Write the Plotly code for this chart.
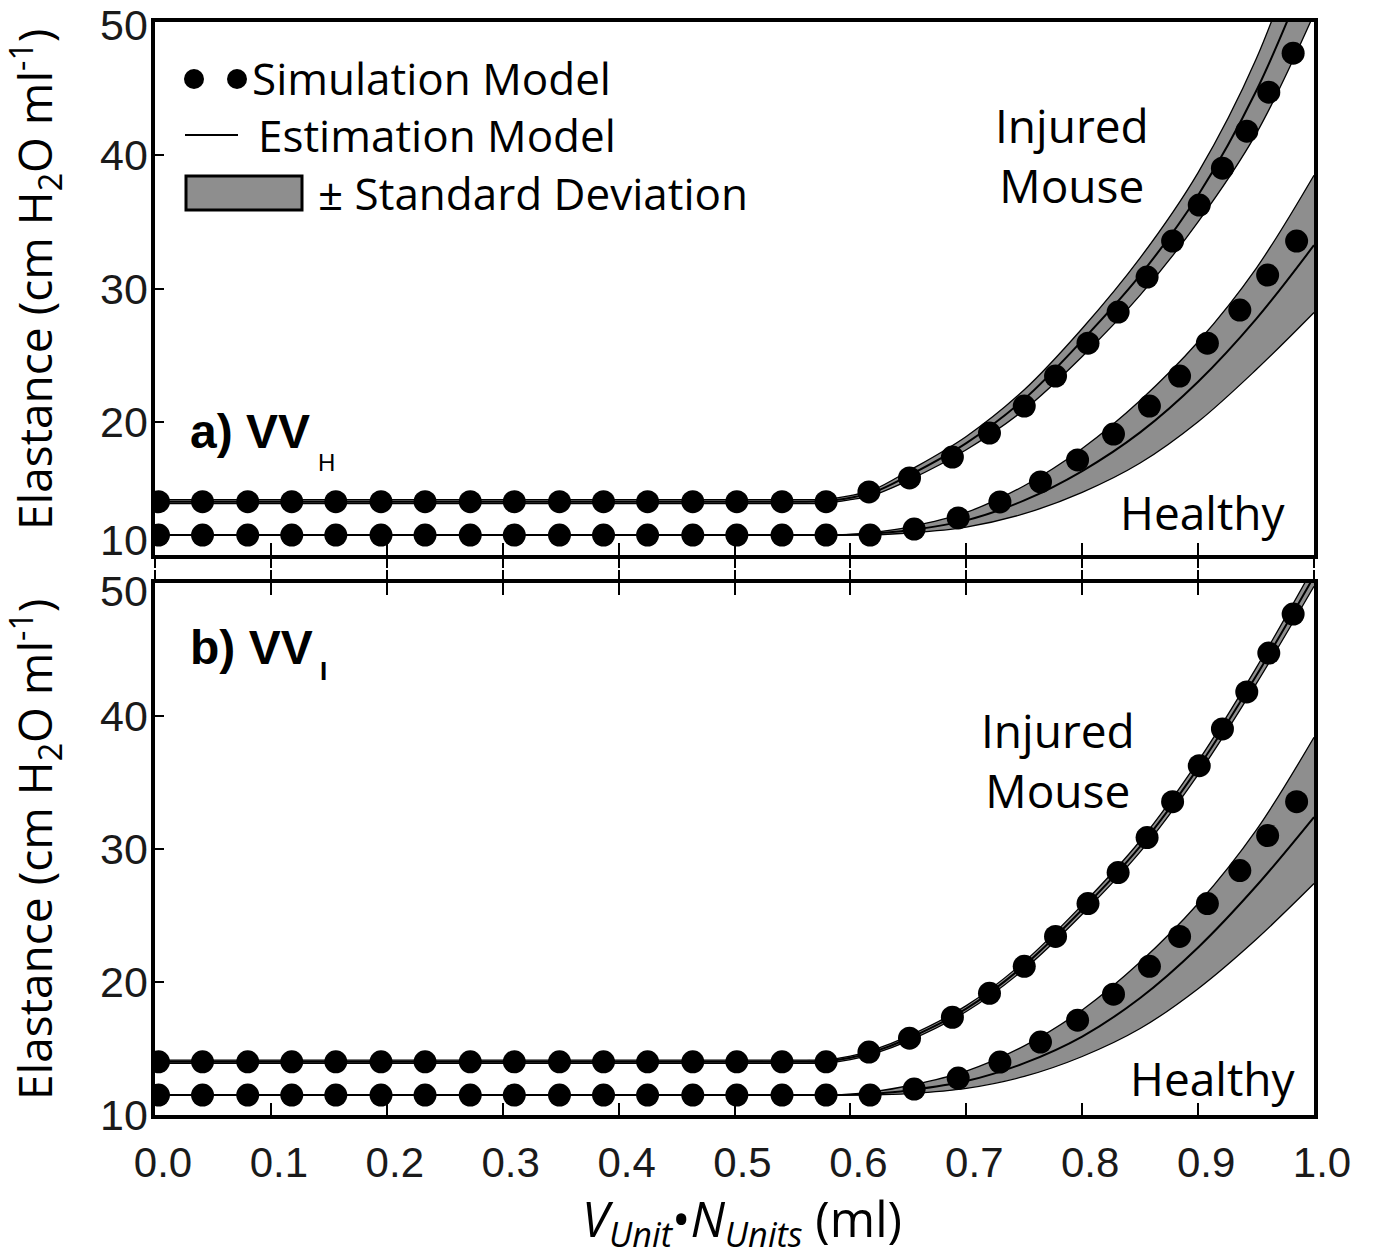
import plotly.graph_objects as go

# ---------------- data ----------------
# Simulation model dots (identical in both panels)
sim_inj_x = [0.003, 0.041, 0.080, 0.118, 0.156, 0.195, 0.233, 0.272, 0.310, 0.349,
             0.387, 0.425, 0.464, 0.502, 0.541, 0.579, 0.616, 0.651, 0.688, 0.720,
             0.750, 0.777, 0.805, 0.831, 0.856, 0.878, 0.901, 0.921, 0.942, 0.961, 0.982]
sim_inj_y = [14.0, 14.0, 14.0, 14.0, 14.0, 14.0, 14.0, 14.0, 14.0, 14.0,
             14.0, 14.0, 14.0, 14.0, 14.0, 14.0, 14.73, 15.78, 17.35, 19.15,
             21.18, 23.43, 25.90, 28.23, 30.86, 33.56, 36.26, 39.03, 41.81, 44.73, 47.66]
sim_hea_x = [0.003, 0.041, 0.080, 0.118, 0.156, 0.195, 0.233, 0.272, 0.310, 0.349,
             0.387, 0.425, 0.464, 0.502, 0.541, 0.579, 0.617, 0.655, 0.693, 0.729,
             0.764, 0.796, 0.827, 0.858, 0.884, 0.908, 0.936, 0.960, 0.985]
sim_hea_y = [11.5, 11.5, 11.5, 11.5, 11.5, 11.5, 11.5, 11.5, 11.5, 11.5,
             11.5, 11.5, 11.5, 11.5, 11.5, 11.5, 11.5, 11.95, 12.78, 13.98,
             15.48, 17.13, 19.08, 21.18, 23.43, 25.90, 28.38, 31.01, 33.56]

# Estimation model curves and +/- SD bands
est_x = [0.0, 0.55, 0.58, 0.60, 0.62, 0.65, 0.70, 0.75, 0.80, 0.85, 0.90, 0.95, 1.00]

# panel a) VV_H
a_inj_mid = [14.0, 14.0, 14.05, 14.3, 14.7, 15.95, 18.4, 21.7, 26.1, 31.0, 37.0, 44.8, 55.0]
a_inj_up  = [14.15, 14.15, 14.2, 14.45, 14.9, 16.3, 18.9, 22.4, 27.0, 32.3, 38.7, 47.2, 59.0]
a_inj_lo  = [13.85, 13.85, 13.9, 14.15, 14.5, 15.6, 17.9, 20.9, 24.9, 29.5, 35.0, 41.6, 50.6]
a_hea_mid = [11.5, 11.5, 11.5, 11.52, 11.6, 11.85, 12.6, 14.1, 16.3, 19.2, 23.0, 27.7, 33.25]
a_hea_up  = [11.5, 11.5, 11.5, 11.55, 11.7, 12.1, 13.2, 15.2, 18.0, 21.6, 26.0, 31.5, 38.5]
a_hea_lo  = [11.5, 11.5, 11.5, 11.5, 11.52, 11.65, 12.1, 13.1, 14.7, 16.9, 20.0, 23.9, 28.2]

# panel b) VV_I
b_inj_mid = [14.0, 14.0, 14.05, 14.3, 14.75, 15.75, 18.0, 21.25, 25.45, 30.2, 36.1, 43.0, 50.5]
b_inj_up  = [14.12, 14.12, 14.17, 14.43, 14.9, 15.93, 18.22, 21.53, 25.8, 30.62, 36.6, 43.6, 51.25]
b_inj_lo  = [13.88, 13.88, 13.93, 14.17, 14.6, 15.57, 17.78, 20.97, 25.1, 29.78, 35.6, 42.4, 49.75]
b_hea_mid = [11.5, 11.5, 11.5, 11.52, 11.6, 11.85, 12.55, 13.9, 15.9, 18.8, 22.6, 27.2, 32.4]
b_hea_up  = [11.5, 11.5, 11.5, 11.56, 11.75, 12.2, 13.3, 15.2, 17.9, 21.5, 25.9, 31.4, 38.4]
b_hea_lo  = [11.5, 11.5, 11.5, 11.5, 11.5, 11.6, 12.0, 12.9, 14.4, 16.5, 19.5, 23.2, 27.4]

x_ticks = [0.0, 0.1, 0.2, 0.3, 0.4, 0.5, 0.6, 0.7, 0.8, 0.9, 1.0]
x_tick_text = ["0.0", "0.1", "0.2", "0.3", "0.4", "0.5", "0.6", "0.7", "0.8", "0.9", "1.0"]
y_ticks = [10, 20, 30, 40, 50]
y_tick_text = ["10", "20", "30", "40", "50"]

# ---------------- styling ----------------
W, H = 1373, 1257
L, R, T, B = 155, 59, 22, 142
PW, PH = W - L - R, H - T - B
BAND = "#8e8e8e"
TXT = "Open Sans"
NUM = "Liberation Sans"


def px(xp):
    return (xp - L) / PW


def py(yp):
    return (H - B - yp) / PH


fig = go.Figure()

panels = [
    ("x", "y", a_inj_mid, a_inj_up, a_inj_lo, a_hea_mid, a_hea_up, a_hea_lo),
    ("x2", "y2", b_inj_mid, b_inj_up, b_inj_lo, b_hea_mid, b_hea_up, b_hea_lo),
]

for xa, ya, im, iu, il, hm, hu, hl in panels:
    for lo, up in [(hl, hu), (il, iu)]:
        fig.add_trace(go.Scatter(x=est_x, y=lo, xaxis=xa, yaxis=ya, mode="lines",
                                 line=dict(color="black", width=1.3, shape="spline"),
                                 showlegend=False, hoverinfo="skip"))
        fig.add_trace(go.Scatter(x=est_x, y=up, xaxis=xa, yaxis=ya, mode="lines",
                                 line=dict(color="black", width=1.3, shape="spline"),
                                 fill="tonexty", fillcolor=BAND,
                                 showlegend=False, hoverinfo="skip"))
    for mid in (hm, im):
        fig.add_trace(go.Scatter(x=est_x, y=mid, xaxis=xa, yaxis=ya, mode="lines",
                                 line=dict(color="black", width=2, shape="spline"),
                                 showlegend=False))
    for sx, sy in [(sim_hea_x, sim_hea_y), (sim_inj_x, sim_inj_y)]:
        fig.add_trace(go.Scatter(x=sx, y=sy, xaxis=xa, yaxis=ya, mode="markers",
                                 marker=dict(color="black", size=23, line=dict(width=0)),
                                 showlegend=False))

ax_common = dict(range=[0, 1], showgrid=False, zeroline=False, tickvals=x_ticks,
                 tickcolor="black", tickwidth=1.5, ticklen=12)
top_dom = [py(555), 1.0]
bot_dom = [0.0, py(583)]

fig.update_layout(
    width=W, height=H, margin=dict(l=L, r=R, t=T, b=B),
    paper_bgcolor="white", plot_bgcolor="white",
    xaxis=dict(**ax_common, anchor="y", showline=True, linecolor="black", linewidth=4,
               mirror=True, ticks="inside", showticklabels=False),
    xaxis3=dict(**ax_common, overlaying="x", anchor="y", side="bottom", showline=False,
                ticks="outside", showticklabels=False),
    xaxis2=dict(**ax_common, anchor="y2", showline=True, linecolor="black", linewidth=4,
                mirror="allticks", ticks="inside", ticktext=x_tick_text,
                tickfont=dict(family=NUM, size=42, color="#1a1a1a"),
                ticklabelstandoff=8, ticklabelshift=8),
    xaxis4=dict(**ax_common, overlaying="x2", anchor="y2", side="top", showline=False,
                ticks="outside", showticklabels=False),
    yaxis=dict(domain=top_dom, anchor="x", range=[10, 50], showgrid=False, zeroline=False,
               showline=True, linecolor="black", linewidth=4, mirror=True,
               ticks="inside", tickvals=[20, 30, 40], ticklen=9, tickwidth=1.5,
               tickcolor="black", showticklabels=False),
    yaxis2=dict(domain=bot_dom, anchor="x2", range=[10, 50], showgrid=False, zeroline=False,
                showline=True, linecolor="black", linewidth=4, mirror=True,
                ticks="inside", tickvals=[20, 30, 40], ticklen=9, tickwidth=1.5,
                tickcolor="black", showticklabels=False),
)
# empty traces so the overlay tick axes are drawn
fig.add_trace(go.Scatter(x=[None], y=[None], xaxis="x3", yaxis="y", showlegend=False))
fig.add_trace(go.Scatter(x=[None], y=[None], xaxis="x4", yaxis="y2", showlegend=False))

ann = []
# y tick labels (placed on the y scales)
for yref, shifts in [("y", {10: 15, 50: -3}), ("y2", {50: -8})]:
    for v, t in zip(y_ticks, y_tick_text):
        ann.append(dict(xref="paper", yref=yref, x=0, y=v, xanchor="right", yanchor="middle",
                        xshift=-5, yshift=shifts.get(v, 0), text=t, showarrow=False,
                        font=dict(family=NUM, size=43, color="#1a1a1a")))

ytitle = "Elastance (cm H<sub>2</sub>O ml<sup>-1</sup>)"
for yc in (py(280), py(850)):
    ann.append(dict(xref="paper", yref="paper", x=px(35), y=yc, xanchor="center",
                    yanchor="middle", textangle=-90, text=ytitle, showarrow=False,
                    font=dict(family=TXT, size=46, color="black")))

ann.append(dict(xref="paper", yref="paper", x=px(742), y=py(1183), xanchor="center",
                yanchor="top", showarrow=False,
                text="<i>V</i><sub><i>Unit</i></sub>\u2022<i>N</i><sub><i>Units</i></sub> (ml)",
                font=dict(family=TXT, size=49, color="black")))

# panel labels
ann.append(dict(xref="paper", yref="paper", x=px(188), y=py(432), xanchor="left",
                yanchor="middle", text="<b>a) VV</b>", showarrow=False,
                font=dict(family=NUM, size=48, color="black")))
ann.append(dict(xref="paper", yref="paper", x=px(316), y=py(462), xanchor="left",
                yanchor="middle", text="H", showarrow=False,
                font=dict(family=NUM, size=24, color="black")))
ann.append(dict(xref="paper", yref="paper", x=px(188), y=py(647), xanchor="left",
                yanchor="middle", text="<b>b) VV</b>", showarrow=False,
                font=dict(family=NUM, size=48, color="black")))
ann.append(dict(xref="paper", yref="paper", x=px(318), y=py(671), xanchor="left",
                yanchor="middle", text="<b>I</b>", showarrow=False,
                font=dict(family=NUM, size=26, color="black")))

# curve labels
for xc, yc, t in [(1072, 155, "Injured<br>Mouse"), (1203, 512, "Healthy"),
                  (1058, 760, "Injured<br>Mouse"), (1213, 1078, "Healthy")]:
    ann.append(dict(xref="paper", yref="paper", x=px(xc), y=py(yc), xanchor="center",
                    yanchor="middle", text=t, showarrow=False,
                    font=dict(family=TXT, size=46, color="black")))

# legend texts
for xl, yc, t in [(250, 78, "Simulation Model"), (256, 135, "Estimation Model"),
                  (316, 193, "\u00b1 Standard Deviation")]:
    ann.append(dict(xref="paper", yref="paper", x=px(xl), y=py(yc), xanchor="left",
                    yanchor="middle", text=t, showarrow=False,
                    font=dict(family=TXT, size=44, color="black")))

fig.update_layout(annotations=ann)

# legend symbols
shapes = []
for cx in (194, 237):
    shapes.append(dict(type="circle", xref="paper", yref="paper", xsizemode="pixel",
                       ysizemode="pixel", xanchor=px(cx), yanchor=py(79),
                       x0=-10, x1=10, y0=-10, y1=10, fillcolor="black", line=dict(width=0)))
shapes.append(dict(type="line", xref="paper", yref="paper", x0=px(185), x1=px(238),
                   y0=py(135), y1=py(135), line=dict(color="black", width=2)))
shapes.append(dict(type="rect", xref="paper", yref="paper", x0=px(186), x1=px(302),
                   y0=py(176), y1=py(210), fillcolor=BAND, line=dict(color="black", width=3)))
fig.update_layout(shapes=shapes)

fig.write_html("out.html")
